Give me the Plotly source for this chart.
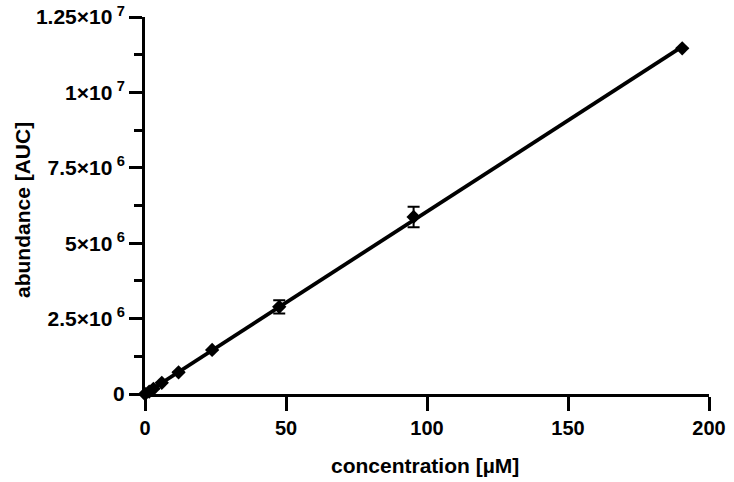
import numpy as np
import plotly.graph_objects as go

conc = [0, 1.49, 2.98, 5.95, 11.9, 23.8, 47.6, 95.25, 190.5]
abundance = [0.0, 0.08e6, 0.17e6, 0.37e6, 0.72e6, 1.46e6, 2.89e6, 5.87e6, 11.46e6]
err = [0, 0, 0, 0, 0, 0, 0.22e6, 0.34e6, 0]

y_tickvals = [0, 2.5e6, 5e6, 7.5e6, 1e7, 1.25e7]
y_ticktext = ["0", "2.5×10\u2009<sup>6</sup>", "5×10\u2009<sup>6</sup>",
              "7.5×10\u2009<sup>6</sup>", "1×10\u2009<sup>7</sup>",
              "1.25×10\u2009<sup>7</sup>"]
x_tickvals = [0, 50, 100, 150, 200]

slope, intercept = np.polyfit(conc, abundance, 1)
fit_x = [0, max(conc)]
fit_y = [intercept + slope * v for v in fit_x]

FONT = "Arial, Liberation Sans, sans-serif"
W, H = 734, 482
L, R, T, B = 145, 734 - 709, 17, 482 - 394

fig = go.Figure()
fig.add_trace(go.Scatter(x=fit_x, y=fit_y, mode="lines",
                         line=dict(color="black", width=3.8), cliponaxis=False,
                         showlegend=False, hoverinfo="skip"))
fig.add_trace(go.Scatter(x=conc, y=abundance, mode="markers",
                         marker=dict(symbol="diamond", size=11, color="black"),
                         error_y=dict(type="data", array=err, color="black",
                                      thickness=2, width=6),
                         cliponaxis=False, showlegend=False))

fig.update_layout(
    width=W, height=H,
    margin=dict(l=L, r=R, t=T, b=B),
    paper_bgcolor="white", plot_bgcolor="white",
    font=dict(family=FONT, color="black", size=20),
    xaxis=dict(range=[0, 200], tickvals=x_tickvals, showgrid=False, zeroline=False,
               automargin=False, ticklabeloverflow="allow",
               showline=True, linecolor="black", linewidth=3,
               ticks="outside", ticklen=14, tickwidth=3, tickcolor="black",
               tickfont=dict(family=FONT, size=20, weight="bold")),
    yaxis=dict(range=[0, 1.25e7], tickvals=y_tickvals, ticktext=y_ticktext,
               showgrid=False, zeroline=False, automargin=False,
               ticklabeloverflow="allow",
               showline=True, linecolor="black", linewidth=3,
               ticks="outside", ticklen=13, tickwidth=3, tickcolor="black",
               tickfont=dict(family=FONT, size=21, weight="bold"),
               minor=dict(dtick=1.25e6, tick0=0, ticks="outside", ticklen=8,
                          tickwidth=3, tickcolor="black", showgrid=False)),
    annotations=[
        dict(text="<b>concentration [µM]</b>", xref="paper", yref="paper",
             xanchor="center", yanchor="middle",
             showarrow=False, font=dict(family=FONT, size=21)),
        dict(text="<b>abundance [AUC]</b>", xref="paper", yref="paper", showarrow=False,
             xanchor="center", yanchor="middle",
             textangle=-90, font=dict(family=FONT, size=21)),
    ],
)
pw, ph = W - L - R, H - T - B
fig.layout.annotations[0].update(x=(425 - L) / pw, y=-(465 - 394) / ph)
fig.layout.annotations[1].update(x=-(L - 22) / pw, y=(394 - 210) / ph)

fig.write_html("out.html", config={"displayModeBar": False},
               post_script="document.body.style.margin='0';document.body.style.padding='0';")
